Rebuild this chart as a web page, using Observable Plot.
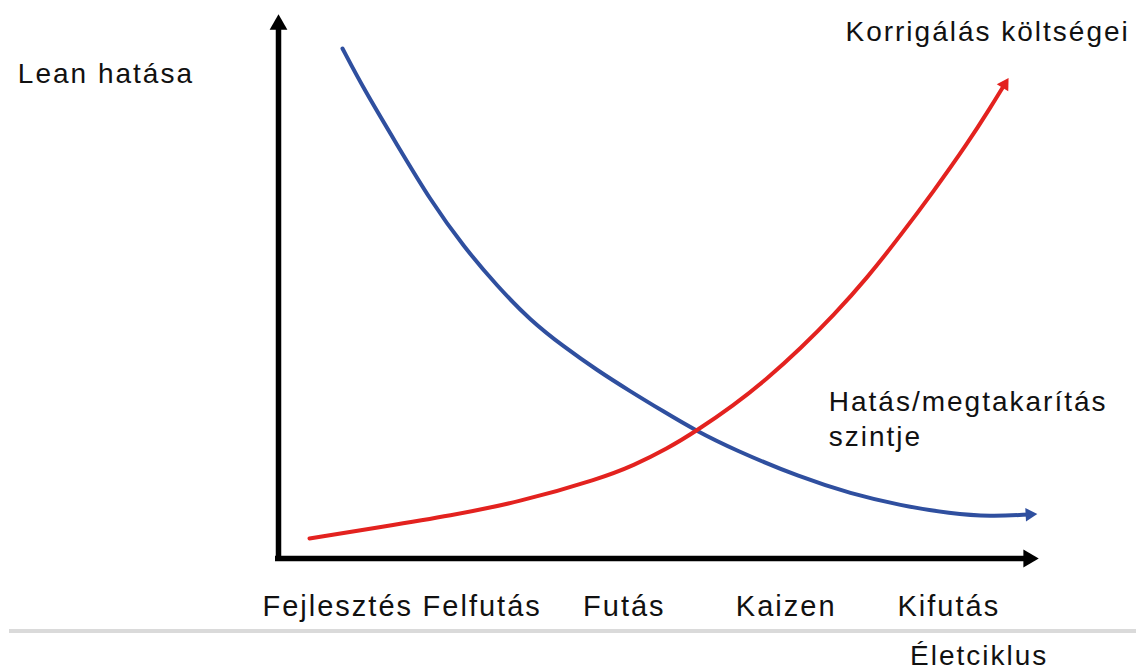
<!DOCTYPE html>
<html>
<head>
<meta charset="utf-8">
<script src="https://cdn.jsdelivr.net/npm/d3@7"></script>
<script src="https://cdn.jsdelivr.net/npm/@observablehq/plot@0.6"></script>
<style>
  html, body { margin: 0; padding: 0; background: #fff; overflow: hidden; }
  svg { display: block; }
  .sep { margin-left: 9px; border-top: 4px solid #dadada; }
  .caption { font-family: "Liberation Sans", Arial, sans-serif; font-size: 28px; letter-spacing: 2px;
             line-height: 34px; padding-top: 6px; padding-left: 910px; color: #111; }
</style>
</head>
<body>
<div id="chart"></div>
<div class="sep"></div>
<div class="caption" id="caption"></div>
<script>
// ---- data ----
const stages   = ["Fejlesztés", "Felfutás", "Futás", "Kaizen", "Kifutás"];
const stageAt  = [7.8, 26.8, 45.5, 66.8, 88.2];           // lifecycle value of each stage label

// "Hatás/megtakarítás szintje" (blue)
const blueX = [8.42, 11.18, 15.66, 20.0, 24.34, 28.82, 33.16, 37.5, 41.97, 46.32, 50.66, 54.87, 59.87, 68.68, 75.26, 81.84, 88.42, 93.68, 98.82];
const blueY = [93.75, 86.4, 75.92, 65.81, 57.35, 50.0, 43.75, 38.97, 34.56, 30.7, 27.02, 23.53, 20.04, 14.89, 11.95, 9.74, 8.27, 7.72, 8.09];

// "Korrigálás költségei" (red)
const redX = [4.08, 13.82, 22.63, 31.45, 42.37, 46.71, 51.18, 54.87, 59.87, 64.34, 68.68, 73.03, 77.5, 81.84, 86.18, 90.66, 93.68, 95.53];
const redY = [3.68, 5.88, 7.9, 10.29, 14.71, 17.1, 20.22, 23.35, 28.13, 33.09, 38.6, 44.67, 51.65, 59.38, 67.46, 76.29, 82.9, 87.13];

const yTitle      = "Lean hatása";
const xTitle      = "Életciklus";
const costLabel   = "Korrigálás költségei";
const impactLabel = "Hatás/megtakarítás\nszintje";

// ---- layout ----
const W = 1136, H = 629;
const mL = 278, mR = 98, mT = 14, mB = 71;
const xDom = [0, 100], yDom = [0, 100];
const kx = (W - mL - mR) / (xDom[1] - xDom[0]);
const ky = (H - mT - mB) / (yDom[1] - yDom[0]);
const BLUE = "#2f4f9f", RED = "#e3221f", INK = "#111";

const blue = blueX.map((x, i) => ({x, y: blueY[i]}));
const red  = redX.map((x, i) => ({x, y: redY[i]}));

// direction of a curve's last segment, in screen degrees clockwise from "up"
function headAngle(xs, ys) {
  const n = xs.length;
  const dx = (xs[n - 1] - xs[n - 2]) * kx;
  const dy = -(ys[n - 1] - ys[n - 2]) * ky;
  return Math.atan2(dx, -dy) * 180 / Math.PI;
}
const heads = [
  {x: blueX[blueX.length - 1], y: blueY[blueY.length - 1], rotate: headAngle(blueX, blueY), color: BLUE},
  {x: redX[redX.length - 1],   y: redY[redY.length - 1],   rotate: headAngle(redX, redY),   color: RED}
];

const chart = Plot.plot({
  width: W, height: H,
  marginLeft: mL, marginRight: mR, marginTop: mT, marginBottom: mB,
  x: {domain: xDom},
  y: {domain: yDom, axis: null},
  style: {fontFamily: "'Liberation Sans', Arial, sans-serif", letterSpacing: "2px", color: INK, background: "#fff"},
  marks: [
    // axes with filled arrow heads
    Plot.ruleX([xDom[0]], {insetTop: 12, insetBottom: -3, stroke: "#000", strokeWidth: 5.5}),
    Plot.ruleY([yDom[0]], {insetRight: 14, insetLeft: -3, stroke: "#000", strokeWidth: 5.5}),
    Plot.dot([{x: xDom[0], y: yDom[1]}], {x: "x", y: "y", symbol: "triangle", r: 6.6, fill: "#000", stroke: null, rotate: 0, dy: 10}),
    Plot.dot([{x: xDom[1], y: yDom[0]}], {x: "x", y: "y", symbol: "triangle", r: 6.6, fill: "#000", stroke: null, rotate: 90, dx: -10}),
    Plot.axisX({ticks: stageAt, tickFormat: d => stages[stageAt.indexOf(d)], tickSize: 0, tickPadding: 37, fontSize: 29, label: null}),
    // curves
    Plot.line(blue, {x: "x", y: "y", stroke: BLUE, strokeWidth: 4, curve: "basis"}),
    Plot.line(red,  {x: "x", y: "y", stroke: RED,  strokeWidth: 4, curve: "basis"}),
    Plot.dot(heads, {x: "x", y: "y", symbol: "triangle", r: 5, fill: "color", stroke: null, rotate: "rotate"}),
    // annotations
    Plot.text([yTitle], {text: d => d, x: -34.3, y: 87.5, textAnchor: "start", lineAnchor: "bottom", fontSize: 28}),
    Plot.text([costLabel], {text: d => d, x: 74.6, y: 95.2, textAnchor: "start", lineAnchor: "bottom", fontSize: 28}),
    Plot.text([impactLabel], {text: d => d, x: 72.4, y: 20.6, textAnchor: "start", lineAnchor: "bottom", lineHeight: 1.25, fontSize: 28})
  ]
});
document.getElementById("chart").appendChild(chart);
document.getElementById("caption").textContent = xTitle;
</script>
</body>
</html>
